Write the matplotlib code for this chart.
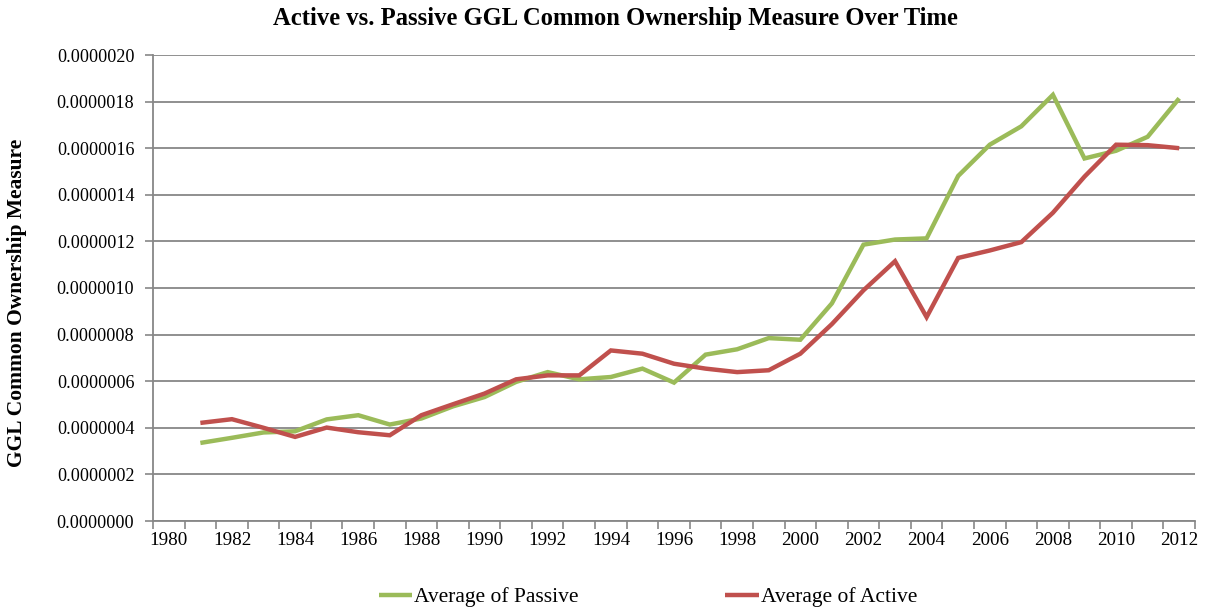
import numpy as np
import matplotlib
matplotlib.use("Agg")
import matplotlib.pyplot as plt
from matplotlib.ticker import FixedLocator, FuncFormatter

# values, in units of 1e-7
years = list(range(1981, 2013))
passive = [3.35, 3.57, 3.80, 3.85, 4.36, 4.54, 4.14, 4.40, 4.92, 5.32,
           5.97, 6.39, 6.08, 6.18, 6.54, 5.94, 7.14, 7.37, 7.85, 7.78,
           9.34, 11.86, 12.08, 12.13, 14.81, 16.15, 16.94, 18.29, 15.56, 15.89,
           16.49, 18.14]
active = [4.21, 4.37, 4.00, 3.61, 4.01, 3.81, 3.68, 4.54, 5.01, 5.47,
          6.08, 6.25, 6.25, 7.32, 7.18, 6.75, 6.54, 6.39, 6.47, 7.18,
          8.45, 9.90, 11.15, 8.75, 11.29, 11.61, 11.97, 13.23, 14.78, 16.15,
          16.13, 16.00]
label_years = list(range(1980, 2013, 2))

green = '#9BBB59'
red = '#C0504D'
grid_gray = '#878787'

plt.rcParams['font.family'] = ['Liberation Serif', 'DejaVu Serif']

fig = plt.figure(figsize=(12.07, 6.12), dpi=100)
ax = fig.add_axes([153 / 1207, 1 - 521 / 612, (1195 - 153) / 1207, (521 - 55) / 612])

x = np.array(years) + 0.5
ax.plot(x, np.array(passive) * 1e-7, color=green, lw=3.2, label='Average of Passive',
        solid_joinstyle='miter', solid_capstyle='butt')
ax.plot(x, np.array(active) * 1e-7, color=red, lw=3.2, label='Average of Active',
        solid_joinstyle='miter', solid_capstyle='butt')

ax.set_xlim(1980, 2013)
ax.set_ylim(0, 2e-6)
ax.set_yticks(np.arange(0, 2.01e-6, 2e-7))
ax.yaxis.set_major_formatter(FuncFormatter(lambda v, p: f"{v:.7f}"))
ax.yaxis.grid(True, color=grid_gray, lw=1.3)
ax.set_axisbelow(True)

# tick marks at every year boundary, labels centred in the year
ax.xaxis.set_major_locator(FixedLocator(range(1980, 2014)))
ax.xaxis.set_major_formatter(FuncFormatter(lambda v, p: ''))
ax.xaxis.set_minor_locator(FixedLocator([y + 0.5 for y in label_years]))
ax.xaxis.set_minor_formatter(FuncFormatter(lambda v, p: f"{int(v)}"))
ax.tick_params(axis='x', which='minor', length=0, labelsize=13.8, pad=8)
ax.tick_params(axis='x', which='major', length=6, width=1.2, color=grid_gray)
ax.tick_params(axis='y', length=6, width=1.2, color=grid_gray, labelsize=13.1, pad=7.5)

for s in ['top', 'right']:
    ax.spines[s].set_visible(False)
for s in ['left', 'bottom']:
    ax.spines[s].set_color(grid_gray)
    ax.spines[s].set_linewidth(1.3)

fig.text(17 / 1207, 1 - 303 / 612, 'GGL Common Ownership Measure', rotation=90,
         ha='center', va='center', fontsize=15.5, fontweight='bold')
fig.text(615 / 1207, 1 - 19 / 612, 'Active vs. Passive GGL Common Ownership Measure Over Time',
         ha='center', va='center', fontsize=17.7, fontweight='bold')

fig.legend(loc='center', bbox_to_anchor=(648 / 1207, 1 - 597 / 612), ncol=2, frameon=False,
           fontsize=15.5, handlelength=1.55, handletextpad=0.1, columnspacing=6.8)

plt.savefig('out.png', dpi=100)
